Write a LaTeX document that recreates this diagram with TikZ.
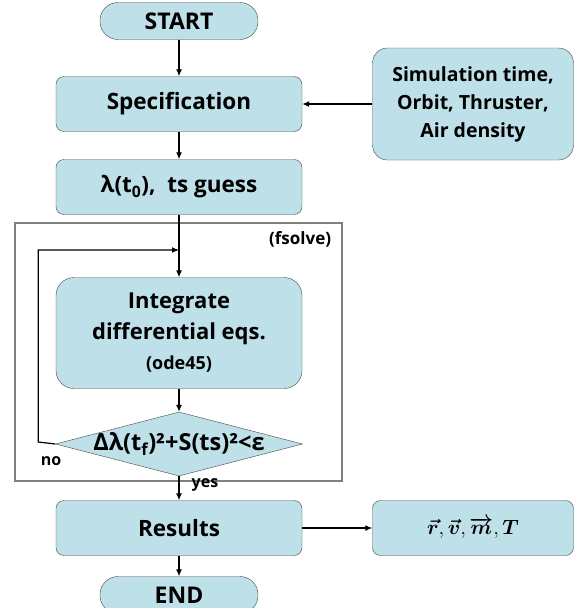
\documentclass[tikz,border=0pt]{standalone}
\usepackage{fontspec}
\usepackage{amsmath,bm}
\setmainfont{Open Sans}
\usetikzlibrary{positioning,shapes.geometric,arrows.meta}
\definecolor{boxblue}{RGB}{190,224,232}
\definecolor{boxline}{RGB}{70,70,70}

\begin{document}
\begin{tikzpicture}[x=1pt, y=-1pt, node distance=83pt, >={Latex[length=7pt,width=6pt]},
    term/.style={rectangle, rounded corners=18pt, draw=boxline, fill=boxblue, minimum width=158pt, minimum height=37pt, text centered, font=\fontsize{23}{25}\selectfont\bfseries},
    process/.style={rectangle, rounded corners=8pt, draw=boxline, fill=boxblue, minimum width=246pt, minimum height=55pt, text centered, font=\fontsize{22.5}{25}\selectfont\bfseries},
    input/.style={rectangle, rounded corners=15pt, draw=boxline, fill=boxblue, minimum width=201pt, minimum height=112pt, align=center, font=\fontsize{19.5}{28}\selectfont\bfseries},
    decision/.style={diamond, draw=boxline, fill=boxblue, minimum width=247pt, minimum height=64pt, aspect=3.9, inner sep=0pt},
    flow/.style={->, line width=1.2pt},
    small/.style={font=\fontsize{16}{18}\selectfont\bfseries}]

\useasboundingbox (0,0) rectangle (575,608);

% Workflow nodes
\node[term] (start) at (179,21) {START};
\node[process, below of=start] (spec) {Specification};
\node[input, right of=spec, node distance=294pt] (params) {Simulation time,\\Orbit, Thruster,\\Air density};
\node[process, below of=spec] (guess) {λ(t\textsubscript{0}),~ ts guess};
\node[process, below of=guess, node distance=146pt, minimum height=111pt, rounded corners=18pt, align=center, font=\fontsize{22}{31}\selectfont\bfseries] (integ) {Integrate\\differential eqs.\\[-1pt]{\fontsize{18}{20}\selectfont(ode45)}};
\node[decision, below of=integ, node distance=111pt,
      label={[font=\fontsize{23.5}{25}\selectfont\bfseries]center:Δλ(t\textsubscript{f})²+S(ts)²<ε}] (check) {};
\node[process, below of=check, node distance=84pt] (results) {Results};
\node[process, right of=results, node distance=294pt, minimum width=201pt, font=\fontsize{21}{22}\selectfont] (output) {$\bm{\vec{r}},\bm{\vec{v}},\bm{\overrightarrow{m}},\bm{T}$};
\node[term, below of=results, node distance=67pt] (finish) {END};

% fsolve frame
\node[draw=gray, line width=1.2pt, minimum width=327pt, minimum height=258pt] (solver) at (178.5,352) {};
\node[anchor=north east, font=\fontsize{17}{19}\selectfont\bfseries] (fsolve) at ([xshift=-8pt,yshift=-6pt]solver.north east) {(fsolve)};
\coordinate (loopin) at (179,250);

% Arrows
\draw[flow] (start) -- (spec);
\draw[flow] (params) -- (spec);
\draw[flow] (spec) -- (guess);
\draw[flow] (guess) -- (integ);
\draw[flow] (integ) -- (check);
\draw[flow] (check.west) -- ++(-17,-2) |- (loopin);
\draw[flow] (check) -- (results);
\draw[flow] (results) -- (output);
\draw[flow] (results) -- (finish);

% Labels
\node[small] (no) at (51,461) {no};
\node[small] (yes) at (205,485) {yes};

\end{tikzpicture}
\end{document}
